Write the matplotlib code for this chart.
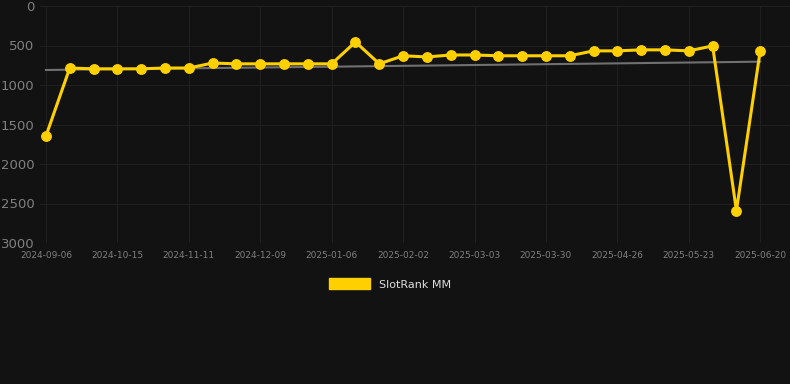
import matplotlib.pyplot as plt
from matplotlib.patches import Patch
import numpy as np

# one point per snapshot, every third one gets a date label
tick_labels = ["2024-09-06", "2024-10-15", "2024-11-11", "2024-12-09", "2025-01-06",
               "2025-02-02", "2025-03-03", "2025-03-30", "2025-04-26", "2025-05-23",
               "2025-06-20"]
rank = [1645, 785, 795, 795, 795, 785, 785, 722, 732, 732,
        732, 732, 732, 455, 732, 630, 645, 620, 620, 630,
        630, 630, 630, 568, 568, 555, 555, 568, 505, 2590,
        565]
trend_ends = [810, 705]

bg = "#121212"
gold = "#FFD000"

x = np.arange(len(rank))

fig = plt.figure(figsize=(7.9, 3.84), dpi=100, facecolor=bg)
ax = fig.add_axes([40/790, 141/384, 750/790, 237/384], facecolor=bg)

ax.plot([x[0], x[-1]], trend_ends, color="#707070", lw=1.5, zorder=2)
ax.plot(x, rank, color=gold, lw=2.2, marker="o", ms=6.8, zorder=3)

ax.set_ylim(3000, 0)
ax.set_xlim(-0.25, 31.25)
ax.set_yticks([0, 500, 1000, 1500, 2000, 2500, 3000])
ax.set_xticks(x[::3])
ax.set_xticklabels(tick_labels)

ax.grid(True, color="#1f1f1f", lw=0.8)
for s in ax.spines.values():
    s.set_visible(False)
ax.tick_params(axis="y", colors="#808080", labelsize=9.5, length=0, pad=4)
ax.tick_params(axis="x", colors="#808080", labelsize=6.5, length=0, pad=6)

fig.legend(handles=[Patch(color=gold, label="SlotRank MM")], loc="center",
           bbox_to_anchor=(390/790, 1 - 284/384), frameon=False,
           handlelength=3.75, handleheight=1.1, fontsize=8, labelcolor="#dddddd")

plt.savefig("out.png", facecolor=bg)
